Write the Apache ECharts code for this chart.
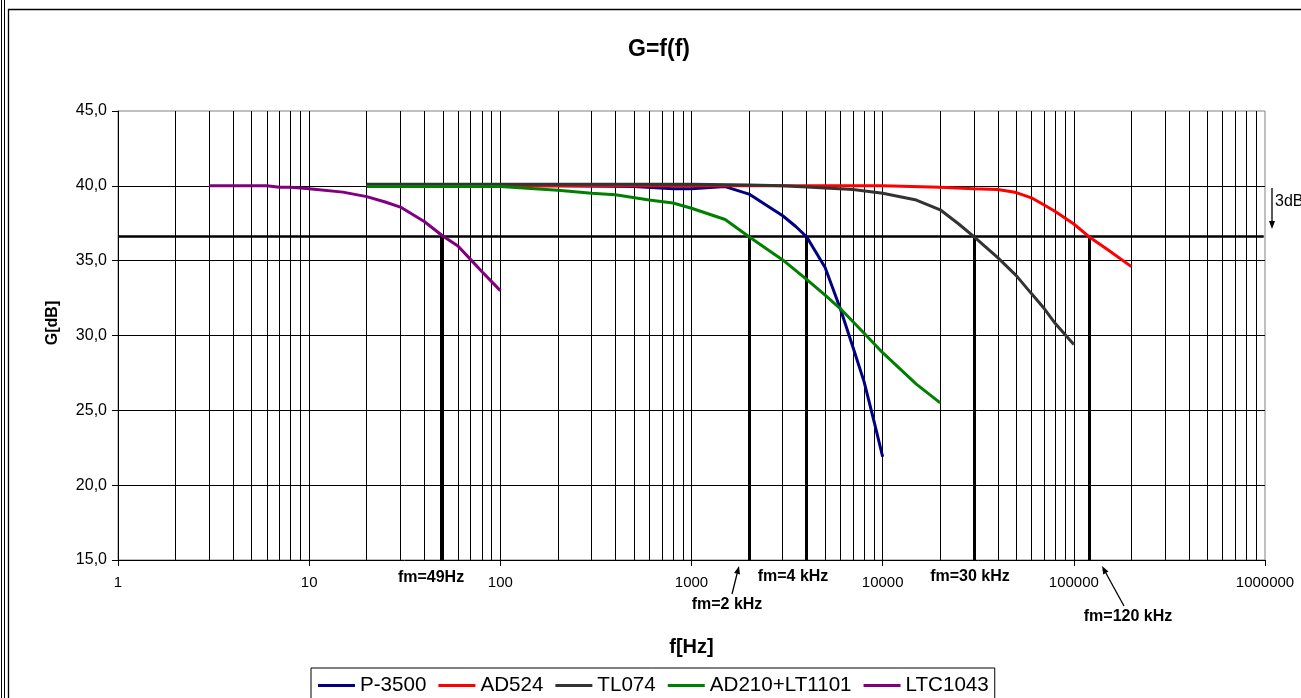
<!DOCTYPE html>
<html>
<head>
<meta charset="utf-8">
<title>G=f(f)</title>
<script src="https://cdn.jsdelivr.net/npm/echarts@6/dist/echarts.min.js"></script>
<style>
  html, body { margin: 0; padding: 0; background: #fff; overflow: hidden; }
  #chart { width: 1301px; height: 698px; }
</style>
</head>
<body>
<div id="chart"></div>
<script>
// ---- data: gain G [dB] versus frequency f [Hz] ----
const yTicks = [15, 20, 25, 30, 35, 40, 45];

const fP3500 = [20, 50, 100, 200, 500, 800, 1000, 1500, 2000, 2500, 3000, 3500, 4000, 5000, 6000, 7000, 8000, 9000, 10000];
const gP3500 = [40.0, 40.0, 40.0, 40.0, 39.95, 39.8, 39.8, 39.95, 39.45, 38.65, 38.0, 37.3, 36.6, 34.55, 31.8, 29.2, 26.9, 24.3, 21.9];

const fAD524 = [20, 50, 100, 200, 500, 1000, 2000, 5000, 10000, 20000, 30000, 40000, 50000, 60000, 70000, 80000, 100000, 120000, 150000, 200000];
const gAD524 = [40.0, 40.0, 40.0, 40.0, 40.0, 40.0, 40.0, 40.0, 40.0, 39.9, 39.8, 39.75, 39.55, 39.2, 38.72, 38.28, 37.45, 36.6, 35.75, 34.6];

const fTL074 = [20, 50, 100, 200, 500, 1000, 2000, 3000, 5000, 7000, 10000, 15000, 20000, 25000, 30000, 40000, 50000, 60000, 70000, 80000, 100000];
const gTL074 = [40.1, 40.1, 40.1, 40.1, 40.1, 40.1, 40.05, 40.0, 39.85, 39.75, 39.5, 39.05, 38.4, 37.45, 36.6, 35.2, 34.0, 32.8, 31.8, 30.8, 29.4];

const fAD210 = [20, 50, 100, 200, 300, 400, 600, 800, 1000, 1500, 2000, 3000, 4000, 5000, 6000, 8000, 10000, 15000, 20000];
const gAD210 = [39.95, 39.95, 39.95, 39.7, 39.5, 39.4, 39.05, 38.85, 38.5, 37.75, 36.6, 35.05, 33.75, 32.7, 31.8, 30.15, 28.85, 26.75, 25.5];

const fLTC1043 = [3, 4, 5, 6, 7, 8, 9, 10, 15, 20, 25, 30, 40, 50, 60, 70, 80, 100];
const gLTC1043 = [40.0, 40.0, 40.0, 40.0, 39.9, 39.9, 39.85, 39.8, 39.58, 39.28, 38.92, 38.58, 37.62, 36.65, 35.98, 35.07, 34.28, 33.0];

// -3 dB reference level and the corner frequencies read on it
const cutoffLevel = 36.6;
const fmFreqs = [49, 2000, 4000, 30000, 120000];
const fmLabels = ['fm=49Hz', 'fm=2 kHz', 'fm=4 kHz', 'fm=30 kHz', 'fm=120 kHz'];

const seriesNames = ['P-3500', 'AD524', 'TL074', 'AD210+LT1101', 'LTC1043'];
const seriesColors = ['#000080', '#ff0000', '#333333', '#008000', '#800080'];
const seriesF = [fP3500, fAD524, fTL074, fAD210, fLTC1043];
const seriesG = [gP3500, gAD524, gTL074, gAD210, gLTC1043];

// ---- layout ----
const FONT = '"Liberation Sans", Arial, Helvetica, sans-serif';
const X_MIN = 1, X_MAX = 1000000;
const Y_MIN = yTicks[0], Y_MAX = yTicks[yTicks.length - 1];

// gridlines: every 1..9 x 10^k on the log axis, every tick on the value axis
const xGridValues = [];
for (let p = 1; p < X_MAX; p *= 10) {
  for (let m = 1; m <= 9; m++) {
    const v = m * p;
    if (v > X_MIN && v < X_MAX) xGridValues.push(v);
  }
}
const yGridValues = yTicks.filter(v => v > Y_MIN && v < Y_MAX);

const pairs = (fs, gs) => fs.map((f, i) => [f, gs[i]]);

const chart = echarts.init(document.getElementById('chart'), null, { renderer: 'canvas' });

const curveSeries = seriesNames.map((name, i) => ({
  name: name,
  type: 'line',
  data: pairs(seriesF[i], seriesG[i]),
  symbol: 'none',
  showSymbol: false,
  smooth: false,
  z: 5,
  lineStyle: { color: seriesColors[i], width: 3 },
  itemStyle: { color: seriesColors[i] },
  emphasis: { disabled: true }
}));

const gridSeries = {
  name: '_grid',
  type: 'line',
  data: [],
  z: 1,
  silent: true,
  markLine: {
    silent: true,
    symbol: 'none',
    animation: false,
    label: { show: false },
    emphasis: { disabled: true },
    lineStyle: { type: 'solid', color: '#000', width: 1 },
    data: xGridValues.map(v => ({ xAxis: v })).concat(yGridValues.map(v => ({ yAxis: v })))
  }
};

const cutoffSeries = {
  name: '_cutoff',
  type: 'line',
  data: [],
  z: 3,
  silent: true,
  markLine: {
    silent: true,
    symbol: 'none',
    animation: false,
    label: { show: false },
    emphasis: { disabled: true },
    lineStyle: { type: 'solid', color: '#000', width: 2.5 },
    data: [[{ coord: [X_MIN, cutoffLevel] }, { coord: [X_MAX * 0.985, cutoffLevel] }]].concat(
      fmFreqs.map(f => [{ coord: [f, cutoffLevel], lineStyle: { width: 3 } }, { coord: [f, Y_MIN] }])
    )
  }
};

// annotation helpers (pixel layout of the notes around the plot)
function arrow(x1, y1, x2, y2, head, half) {
  const dx = x2 - x1, dy = y2 - y1;
  const len = Math.sqrt(dx * dx + dy * dy);
  const ux = dx / len, uy = dy / len;
  const bx = x2 - ux * head, by = y2 - uy * head;
  const nx = -uy * half, ny = ux * half;
  return [
    { type: 'line', silent: true, shape: { x1: x1, y1: y1, x2: bx, y2: by }, style: { stroke: '#000', lineWidth: 1.3 } },
    { type: 'polygon', silent: true, shape: { points: [[x2, y2], [bx + nx, by + ny], [bx - nx, by - ny]] }, style: { fill: '#000' } }
  ];
}
function note(text, x, y, size, bold, rotation) {
  return {
    type: 'text', silent: true, x: x, y: y, rotation: rotation || 0,
    style: {
      text: text, fill: '#000', fontFamily: FONT, fontSize: size,
      fontWeight: bold ? 'bold' : 'normal', align: 'center', verticalAlign: 'middle'
    }
  };
}

const graphics = [
  // frame
  { type: 'line', silent: true, shape: { x1: 1.5, y1: 0, x2: 1.5, y2: 698 }, style: { stroke: '#000', lineWidth: 1 } },
  { type: 'line', silent: true, shape: { x1: 4.5, y1: 0, x2: 4.5, y2: 698 }, style: { stroke: '#000', lineWidth: 1 } },
  { type: 'rect', silent: true, shape: { x: 8.5, y: 9.5, width: 1400, height: 800 }, style: { fill: null, stroke: '#000', lineWidth: 1.3 } },
  // title
  note('G=f(f)', 659, 50, 23, true),
  // value axis title
  note('G[dB]', 53, 323, 16, true, Math.PI / 2),
  // corner frequency notes
  note(fmLabels[0], 431, 578, 16, true),
  note(fmLabels[1], 727, 605, 16, true),
  note(fmLabels[2], 793, 577, 16, true),
  note(fmLabels[3], 970, 577, 16, true),
  note(fmLabels[4], 1128, 617, 16, true),
  // 3 dB drop marker
  { type: 'text', silent: true, x: 1275, y: 202, style: { text: '3dB', fill: '#000', fontFamily: FONT, fontSize: 16, align: 'left', verticalAlign: 'middle' } }
].concat(
  arrow(732, 594, 739, 566, 8, 3),
  arrow(1124, 606, 1102, 566, 8, 3),
  arrow(1272, 188, 1272, 229, 8, 3)
);

const option = {
  animation: false,
  backgroundColor: '#fff',
  textStyle: { fontFamily: FONT },
  grid: {
    left: 118, top: 111, width: 1147, height: 449,
    show: true, borderColor: '#808080', borderWidth: 1, backgroundColor: 'transparent',
    containLabel: false
  },
  legend: {
    data: seriesNames,
    left: 311, top: 668,
    orient: 'horizontal',
    icon: 'rect',
    itemWidth: 37, itemHeight: 3, itemGap: 12,
    padding: [7, 6, 10, 7],
    borderColor: '#000', borderWidth: 1,
    selectedMode: false,
    textStyle: { fontFamily: FONT, fontSize: 20.6, color: '#000' }
  },
  xAxis: {
    type: 'log',
    logBase: 10,
    min: X_MIN, max: X_MAX,
    name: 'f[Hz]',
    nameLocation: 'middle',
    nameGap: 77,
    nameTextStyle: { fontFamily: FONT, fontSize: 20, fontWeight: 'bold', color: '#000' },
    axisLine: { show: true, onZero: false, lineStyle: { color: '#000', width: 1 } },
    axisTick: { show: true, inside: false, length: 6, lineStyle: { color: '#000' } },
    minorTick: { show: false },
    axisLabel: {
      margin: 15, fontFamily: FONT, fontSize: 15, color: '#000',
      formatter: v => String(Math.round(v))
    },
    splitLine: { show: false }
  },
  yAxis: {
    type: 'value',
    min: Y_MIN, max: Y_MAX, interval: 5,
    axisLine: { show: true, onZero: false, lineStyle: { color: '#000', width: 1 } },
    axisTick: { show: true, inside: false, length: 6, lineStyle: { color: '#000' } },
    axisLabel: {
      margin: 11, fontFamily: FONT, fontSize: 16, color: '#000',
      formatter: v => v.toFixed(1).replace('.', ',')
    },
    splitLine: { show: false }
  },
  series: [gridSeries, cutoffSeries].concat(curveSeries),
  graphic: graphics
};

chart.setOption(option);
</script>
</body>
</html>
